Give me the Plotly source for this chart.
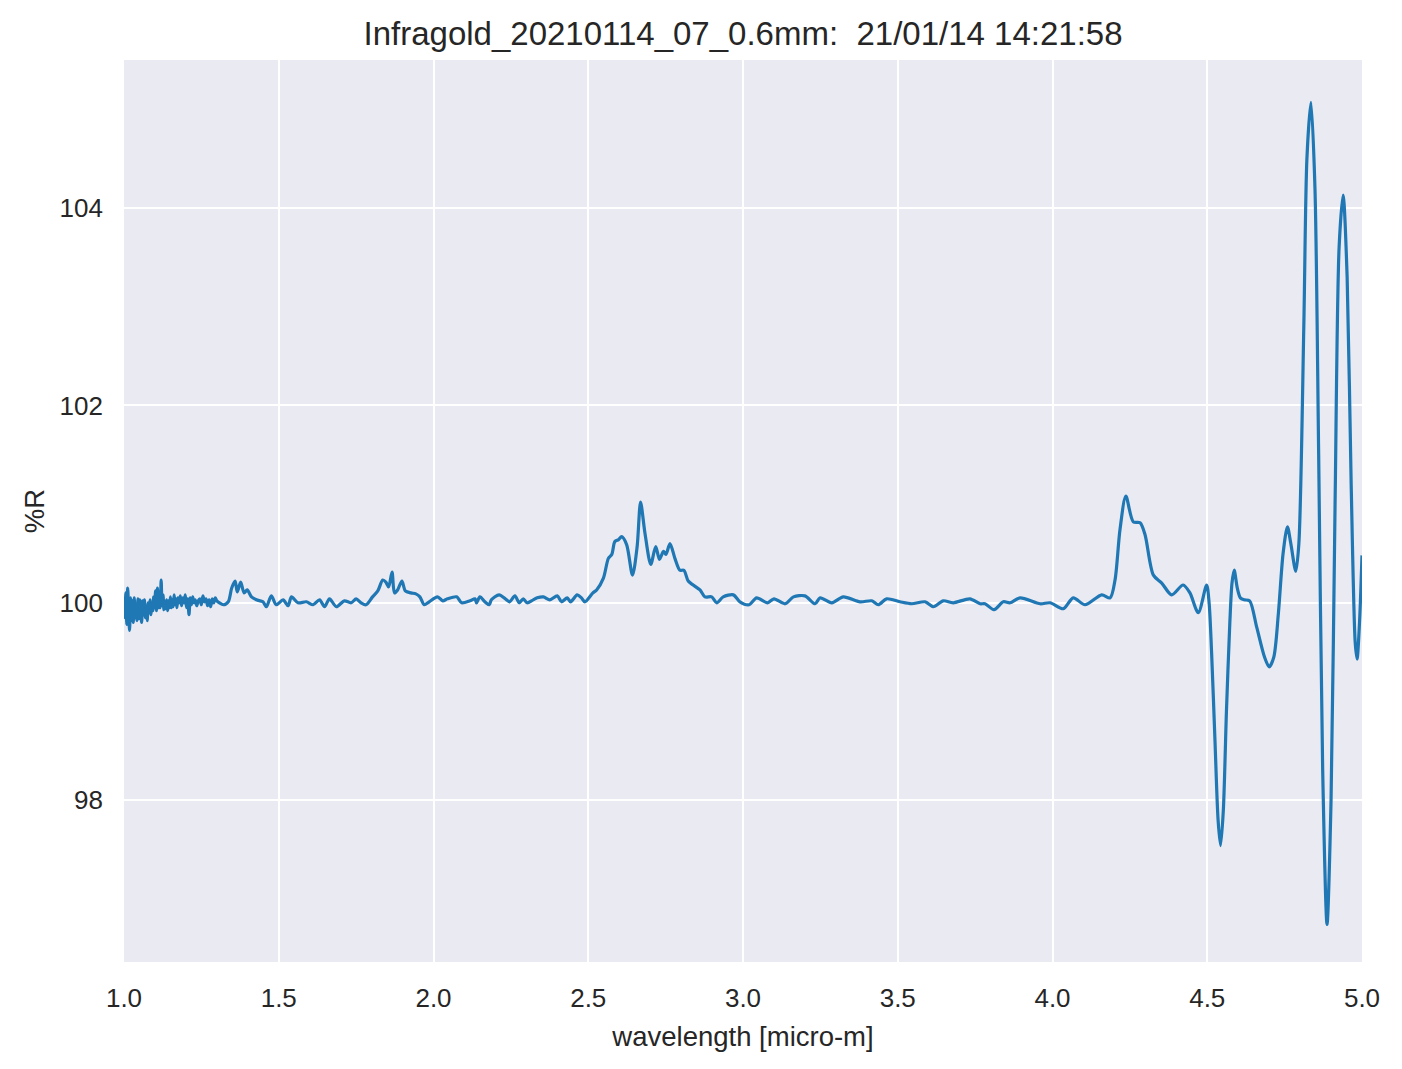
import plotly.graph_objects as go

# wavelength [micro-m] and reflectance [%R]
wavelength = [
    1.000, 1.003, 1.006, 1.009, 1.012, 1.015, 1.018, 1.021, 1.024, 1.027,
    1.030, 1.033, 1.036, 1.039, 1.042, 1.045, 1.048, 1.051, 1.054, 1.057,
    1.060, 1.063, 1.066, 1.069, 1.072, 1.075, 1.078, 1.081, 1.084, 1.087,
    1.090, 1.093, 1.096, 1.099, 1.102, 1.105, 1.108, 1.111, 1.114, 1.117,
    1.120, 1.123, 1.126, 1.129, 1.132, 1.135, 1.138, 1.141, 1.144, 1.147,
    1.150, 1.153, 1.156, 1.159, 1.162, 1.165, 1.168, 1.171, 1.174, 1.178,
    1.182, 1.186, 1.190, 1.194, 1.198, 1.202, 1.206, 1.210, 1.214, 1.218,
    1.222, 1.226, 1.230, 1.235, 1.240, 1.245, 1.250, 1.255, 1.260, 1.265,
    1.270, 1.275, 1.280, 1.285, 1.290, 1.295, 1.300,
    1.321, 1.337, 1.348, 1.359, 1.366, 1.377, 1.388, 1.398, 1.412, 1.428,
    1.449, 1.460, 1.476, 1.492, 1.514, 1.530, 1.541, 1.562, 1.589, 1.611,
    1.632, 1.648, 1.664, 1.686, 1.712, 1.734, 1.750, 1.766, 1.782, 1.803,
    1.820, 1.836, 1.846, 1.855, 1.866, 1.874, 1.884, 1.898, 1.909, 1.927,
    1.943, 1.956, 1.970, 1.986, 2.013, 2.030, 2.045,
    2.075, 2.091, 2.118, 2.134, 2.139, 2.150, 2.166, 2.180, 2.187, 2.212,
    2.236, 2.246, 2.263, 2.277, 2.290, 2.302, 2.322, 2.335, 2.355, 2.376,
    2.400, 2.414, 2.432, 2.443, 2.464, 2.478, 2.489,
    2.515, 2.527, 2.549, 2.565, 2.576, 2.586, 2.598, 2.608, 2.624, 2.643,
    2.658, 2.669, 2.683, 2.702, 2.718, 2.730, 2.743, 2.751, 2.764, 2.780,
    2.796, 2.809, 2.823, 2.839, 2.861, 2.877, 2.899, 2.915, 2.936, 2.969,
    2.990, 3.020, 3.044, 3.079, 3.100, 3.136, 3.163, 3.200, 3.233, 3.249,
    3.287, 3.324, 3.378, 3.416, 3.437, 3.464, 3.507, 3.545, 3.588, 3.615,
    3.647, 3.679, 3.733, 3.766, 3.782, 3.811, 3.841, 3.863, 3.895, 3.960,
    3.992, 4.035, 4.067, 4.105, 4.159, 4.186, 4.202, 4.218, 4.237, 4.261,
    4.283, 4.299, 4.326, 4.353, 4.385, 4.422, 4.444, 4.471, 4.498,
    4.506, 4.514, 4.525, 4.535, 4.543, 4.552, 4.562, 4.573, 4.580, 4.587,
    4.597, 4.607, 4.620, 4.637, 4.660, 4.685, 4.700, 4.715, 4.730, 4.745,
    4.759, 4.770, 4.786, 4.796, 4.812, 4.822, 4.835, 4.848, 4.860, 4.873,
    4.887, 4.900, 4.913, 4.926, 4.939, 4.952, 4.965, 4.978, 4.984, 4.992,
    5.000,
]

reflectance = [
    100.05, 99.85, 100.10, 99.78, 100.15, 99.90, 99.72, 100.05, 99.82, 100.02,
    99.80, 100.05, 99.85, 99.98, 99.82, 100.04, 99.84, 100.03, 99.90, 99.80,
    100.02, 99.88, 100.03, 99.85, 99.95, 99.82, 100.00, 99.90, 100.03, 99.88,
    99.98, 99.92, 100.06, 99.95, 100.12, 99.92, 100.15, 99.95, 100.00, 99.95,
    100.23, 99.97, 100.08, 99.93, 100.02, 99.94, 100.03, 99.92, 100.02, 99.95,
    100.06, 99.95, 100.03, 99.96, 100.08, 99.98, 100.04, 99.95, 100.05, 100.00,
    100.07, 99.97, 100.05, 100.00, 100.08, 99.95, 100.04, 99.88, 100.05, 99.98,
    100.06, 100.00, 100.03, 99.97, 100.02, 100.04, 99.98, 100.07, 100.01, 100.04,
    99.97, 100.03, 99.96, 100.04, 100.00, 100.05, 100.02,
    99.98, 100.01, 100.15, 100.22, 100.11, 100.21, 100.10, 100.13, 100.06, 100.03,
    100.01, 99.96, 100.07, 99.98, 100.03, 99.97, 100.06, 100.00, 100.01, 99.98,
    100.03, 99.96, 100.04, 99.96, 100.02, 100.00, 100.04, 100.00, 99.98, 100.06,
    100.12, 100.23, 100.21, 100.16, 100.31, 100.10, 100.13, 100.22, 100.12, 100.10,
    100.09, 100.06, 99.98, 100.01, 100.06, 100.02, 100.04,
    100.06, 100.00, 100.02, 100.04, 100.00, 100.06, 100.01, 99.98, 100.03, 100.08,
    100.03, 100.01, 100.07, 100.00, 100.04, 100.00, 100.03, 100.05, 100.06, 100.03,
    100.07, 100.01, 100.05, 100.01, 100.08, 100.05, 100.01,
    100.10, 100.13, 100.25, 100.45, 100.49, 100.62, 100.64, 100.67, 100.59, 100.28,
    100.57, 101.02, 100.71, 100.39, 100.57, 100.44, 100.52, 100.49, 100.60, 100.45,
    100.33, 100.33, 100.22, 100.18, 100.13, 100.06, 100.06, 100.00, 100.06, 100.08,
    100.01, 99.98, 100.05, 100.00, 100.04, 99.99, 100.06, 100.07, 99.99, 100.05,
    100.00, 100.06, 100.01, 100.02, 99.98, 100.04, 100.01, 99.99, 100.01, 99.96,
    100.02, 100.00, 100.04, 99.99, 99.99, 99.93, 100.01, 100.00, 100.05, 99.99,
    100.00, 99.94, 100.05, 99.98, 100.08, 100.05, 100.23, 100.74, 101.08, 100.82,
    100.81, 100.69, 100.28, 100.20, 100.08, 100.18, 100.10, 99.90, 100.18,
    100.00, 99.50, 98.60, 97.80, 97.54, 97.90, 98.90, 99.80, 100.20, 100.33,
    100.15, 100.05, 100.03, 100.02, 99.75, 99.45, 99.35, 99.45, 99.90, 100.50,
    100.77, 100.60, 100.32, 100.60, 102.80, 104.50, 105.07, 104.20, 101.50, 98.30,
    96.74, 98.00, 101.00, 103.60, 104.13, 103.30, 101.20, 99.60, 99.43, 99.80,
    100.48,
]

x_ticks = [1.0, 1.5, 2.0, 2.5, 3.0, 3.5, 4.0, 4.5, 5.0]
y_ticks = [98, 100, 102, 104]

FONT = "Liberation Sans, Arial, DejaVu Sans, sans-serif"
TEXT = "#262626"

fig = go.Figure()
fig.add_trace(go.Scatter(
    x=wavelength, y=reflectance, mode="lines",
    line=dict(color="#1f77b4", width=3.2, shape="spline", smoothing=0.8),
    showlegend=False,
))

fig.update_layout(
    width=1394, height=1061,
    paper_bgcolor="white", plot_bgcolor="#EAEAF2",
    margin=dict(l=116, r=40, t=52, b=107),
    font=dict(family=FONT, size=26, color=TEXT),
    title=dict(text="Infragold_20210114_07_0.6mm:  21/01/14 14:21:58",
               x=0.5, xref="paper", y=0.9764, yref="container",
               xanchor="center", yanchor="middle",
               font=dict(size=33, color=TEXT)),
)

fig.update_xaxes(
    range=[1.0, 5.0], tickvals=x_ticks, ticktext=[f"{v:.1f}" for v in x_ticks],
    showgrid=True, gridcolor="white", gridwidth=2, zeroline=False,
    showline=False, ticks="", ticklabelstandoff=18,
    tickfont=dict(size=26, color=TEXT),
    title=dict(text="wavelength [micro-m]", standoff=14, font=dict(size=27.5)),
)
fig.update_yaxes(
    range=[96.36, 105.5], tickvals=y_ticks,
    showgrid=True, gridcolor="white", gridwidth=2, zeroline=False,
    showline=False, ticks="", ticklabelstandoff=20,
    tickfont=dict(size=26, color=TEXT),
    title=dict(text="%R", standoff=6, font=dict(size=27.5)),
)

fig.write_html("out.html")
